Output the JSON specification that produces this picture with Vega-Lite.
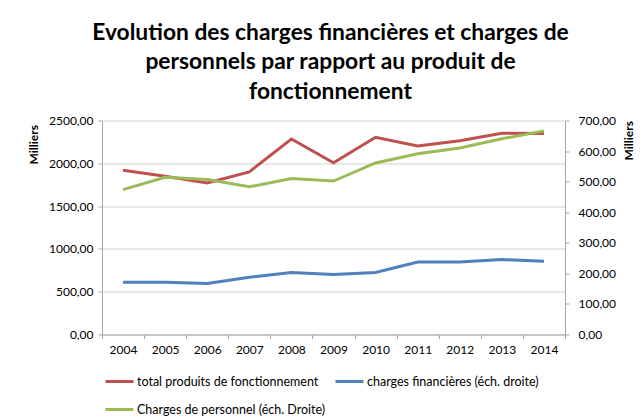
{
  "$schema": "https://vega.github.io/schema/vega-lite/v6.json",
  "width": 463,
  "height": 214,
  "autosize": "none",
  "padding": {"left": 102, "top": 120.5, "right": 76, "bottom": 82.5},
  "background": "white",
  "title": {
    "text": ["Evolution des charges financières et charges de", "personnels par rapport au produit de", "fonctionnement"],
    "font": "Lato",
    "fontSize": 22.8,
    "fontWeight": "bold",
    "color": "#000000",
    "anchor": "middle",
    "lineHeight": 29.5,
    "offset": 11,
    "dx": -3
  },
  "data": {
    "values": [
      {"annee": "2004", "serie": "total produits de fonctionnement", "valeur": 1920},
      {"annee": "2005", "serie": "total produits de fonctionnement", "valeur": 1850},
      {"annee": "2006", "serie": "total produits de fonctionnement", "valeur": 1770},
      {"annee": "2007", "serie": "total produits de fonctionnement", "valeur": 1900},
      {"annee": "2008", "serie": "total produits de fonctionnement", "valeur": 2284},
      {"annee": "2009", "serie": "total produits de fonctionnement", "valeur": 2007},
      {"annee": "2010", "serie": "total produits de fonctionnement", "valeur": 2304},
      {"annee": "2011", "serie": "total produits de fonctionnement", "valeur": 2202},
      {"annee": "2012", "serie": "total produits de fonctionnement", "valeur": 2264},
      {"annee": "2013", "serie": "total produits de fonctionnement", "valeur": 2350},
      {"annee": "2014", "serie": "total produits de fonctionnement", "valeur": 2348},
      {"annee": "2004", "serie": "charges financières (éch. droite)", "valeur": 171},
      {"annee": "2005", "serie": "charges financières (éch. droite)", "valeur": 171},
      {"annee": "2006", "serie": "charges financières (éch. droite)", "valeur": 167},
      {"annee": "2007", "serie": "charges financières (éch. droite)", "valeur": 187},
      {"annee": "2008", "serie": "charges financières (éch. droite)", "valeur": 203},
      {"annee": "2009", "serie": "charges financières (éch. droite)", "valeur": 196},
      {"annee": "2010", "serie": "charges financières (éch. droite)", "valeur": 203},
      {"annee": "2011", "serie": "charges financières (éch. droite)", "valeur": 237},
      {"annee": "2012", "serie": "charges financières (éch. droite)", "valeur": 237},
      {"annee": "2013", "serie": "charges financières (éch. droite)", "valeur": 245},
      {"annee": "2014", "serie": "charges financières (éch. droite)", "valeur": 240},
      {"annee": "2004", "serie": "Charges de personnel (éch. Droite)", "valeur": 474},
      {"annee": "2005", "serie": "Charges de personnel (éch. Droite)", "valeur": 514},
      {"annee": "2006", "serie": "Charges de personnel (éch. Droite)", "valeur": 507},
      {"annee": "2007", "serie": "Charges de personnel (éch. Droite)", "valeur": 483},
      {"annee": "2008", "serie": "Charges de personnel (éch. Droite)", "valeur": 510},
      {"annee": "2009", "serie": "Charges de personnel (éch. Droite)", "valeur": 502},
      {"annee": "2010", "serie": "Charges de personnel (éch. Droite)", "valeur": 561},
      {"annee": "2011", "serie": "Charges de personnel (éch. Droite)", "valeur": 591},
      {"annee": "2012", "serie": "Charges de personnel (éch. Droite)", "valeur": 610},
      {"annee": "2013", "serie": "Charges de personnel (éch. Droite)", "valeur": 640},
      {"annee": "2014", "serie": "Charges de personnel (éch. Droite)", "valeur": 666}
    ]
  },
  "encoding": {
    "x": {
      "field": "annee",
      "type": "ordinal",
      "scale": {"type": "band", "paddingInner": 0, "paddingOuter": 0},
      "axis": {
        "title": null,
        "labelAngle": 0,
        "tickBand": "extent",
        "tickSize": 4,
        "labelPadding": 6,
        "grid": false
      }
    },
    "color": {
      "field": "serie",
      "type": "nominal",
      "scale": {
        "domain": ["total produits de fonctionnement", "charges financières (éch. droite)", "Charges de personnel (éch. Droite)"],
        "range": ["#C0504D", "#4F81BD", "#9BBB59"]
      },
      "legend": {
        "title": null,
        "orient": "none",
        "direction": "horizontal",
        "legendX": 2,
        "legendY": 245.5,
        "columns": 2,
        "columnPadding": 3,
        "rowPadding": 6,
        "symbolType": "stroke",
        "symbolSize": 784,
        "symbolStrokeWidth": 3,
        "labelOffset": 2,
        "labelLimit": 400,
        "labelFont": "Lato",
        "labelFontSize": 12.5,
        "labelColor": "#000000",
        "padding": 0
      }
    }
  },
  "layer": [
    {
      "transform": [{"filter": "datum.serie === 'total produits de fonctionnement'"}],
      "mark": {"type": "line", "strokeWidth": 3},
      "encoding": {
        "y": {
          "field": "valeur",
          "type": "quantitative",
          "scale": {"domain": [0, 2500], "nice": false},
          "axis": {
            "title": "Milliers",
            "titleAnchor": "end",
            "titleFont": "Lato",
            "titleFontSize": 12,
            "titleFontWeight": "bold",
            "titleColor": "#000000",
            "titlePadding": 8,
            "titleY": 4,
            "values": [0, 500, 1000, 1500, 2000, 2500],
            "format": ".2f",
            "tickSize": 4,
            "labelPadding": 5
          }
        }
      }
    },
    {
      "transform": [{"filter": "datum.serie !== 'total produits de fonctionnement'"}],
      "mark": {"type": "line", "strokeWidth": 3},
      "encoding": {
        "y": {
          "field": "valeur",
          "type": "quantitative",
          "scale": {"domain": [0, 700], "nice": false},
          "axis": {
            "orient": "right",
            "grid": false,
            "title": "Milliers",
            "titleAngle": 270,
            "titleAnchor": "end",
            "titleFont": "Lato",
            "titleFontSize": 12,
            "titleFontWeight": "bold",
            "titleColor": "#000000",
            "titlePadding": 20,
            "values": [0, 100, 200, 300, 400, 500, 600, 700],
            "format": ".2f",
            "tickSize": 4,
            "labelPadding": 9
          }
        }
      }
    }
  ],
  "resolve": {"scale": {"y": "independent"}},
  "config": {
    "locale": {"number": {"decimal": ",", "thousands": " ", "grouping": [3], "currency": ["", " €"]}},
    "view": {"stroke": null},
    "axis": {
      "labelFont": "Lato",
      "labelFontSize": 12,
      "labelColor": "#000000",
      "domainColor": "#A6A6A6",
      "tickColor": "#A6A6A6",
      "gridColor": "#D0D0D0",
      "domainWidth": 1,
      "gridWidth": 1
    }
  }
}
